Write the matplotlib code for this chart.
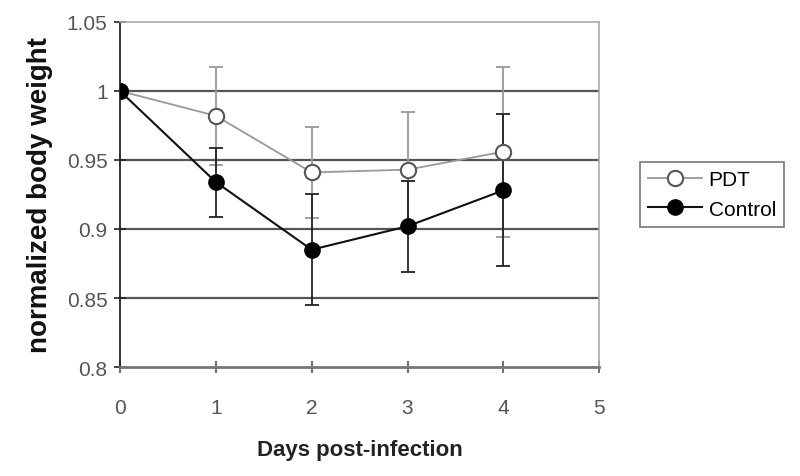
import matplotlib
matplotlib.use('Agg')
import matplotlib.pyplot as plt

plt.rcParams['font.family'] = ['Liberation Sans', 'DejaVu Sans']

days = [0, 1, 2, 3, 4]
pdt_mean = [1.0, 0.982, 0.941, 0.943, 0.956]
pdt_err = [0.0, 0.0355, 0.033, 0.042, 0.0615]
ctrl_mean = [1.0, 0.934, 0.885, 0.902, 0.928]
ctrl_err = [0.0, 0.025, 0.040, 0.033, 0.055]
y_ticks = [0.8, 0.85, 0.9, 0.95, 1.0, 1.05]
y_labels = ['0.8', '0.85', '0.9', '0.95', '1', '1.05']

fig = plt.figure(figsize=(8, 4.77), dpi=100)
ax = fig.add_axes([0.15, 0.2285, 0.599, 0.7233])

# horizontal grid lines
for v in y_ticks[1:-1]:
    ax.axhline(v, color='#555555', lw=1.6, zorder=1)

# error bars (kept out of the legend)
ax.errorbar(days, pdt_mean, yerr=pdt_err, fmt='none', ecolor='#999999',
            elinewidth=1.3, capsize=5, capthick=1.3, zorder=2)
ax.errorbar(days, ctrl_mean, yerr=ctrl_err, fmt='none', ecolor='#222222',
            elinewidth=1.3, capsize=5, capthick=1.3, zorder=2)

ax.plot(days, pdt_mean, color='#999999', lw=1.3, marker='o', ms=11,
        mfc='white', mec='#555555', mew=1.5, label='PDT', zorder=3)
ax.plot(days, ctrl_mean, color='#111111', lw=1.5, marker='o', ms=11,
        mfc='black', mec='black', label='Control', zorder=4)

ax.set_xlim(0, 5)
ax.set_ylim(0.8, 1.05)
ax.set_yticks(y_ticks)
ax.set_yticklabels(y_labels)
ax.set_xticks(range(6))

for side in ['top', 'right']:
    ax.spines[side].set_color('#aaaaaa')
    ax.spines[side].set_linewidth(1.2)
ax.spines['left'].set_color('#222222')
ax.spines['left'].set_linewidth(1.3)
ax.spines['bottom'].set_color('#777777')
ax.spines['bottom'].set_linewidth(2)

ax.tick_params(axis='y', direction='inout', length=8, width=1.2,
               colors='#222222', labelcolor='#555555', labelsize=15, pad=5)
ax.tick_params(axis='x', direction='inout', length=8, width=1.2,
               colors='#555555', labelcolor='#555555', labelsize=15, pad=18)

ax.set_ylabel('normalized body weight', fontsize=20, fontweight='bold',
              color='#111111', labelpad=10)
ax.set_xlabel('Days post-infection', fontsize=16, fontweight='bold',
              color='#222222', labelpad=16)

leg = ax.legend(loc='center left', bbox_to_anchor=(1.085, 0.50), fontsize=15,
                frameon=True, fancybox=False, edgecolor='#555555',
                handlelength=2.6, borderpad=0.4, labelspacing=0.5,
                handletextpad=0.3, borderaxespad=0)
leg.get_frame().set_linewidth(1.2)

fig.savefig('out.png', dpi=100, facecolor='white')
